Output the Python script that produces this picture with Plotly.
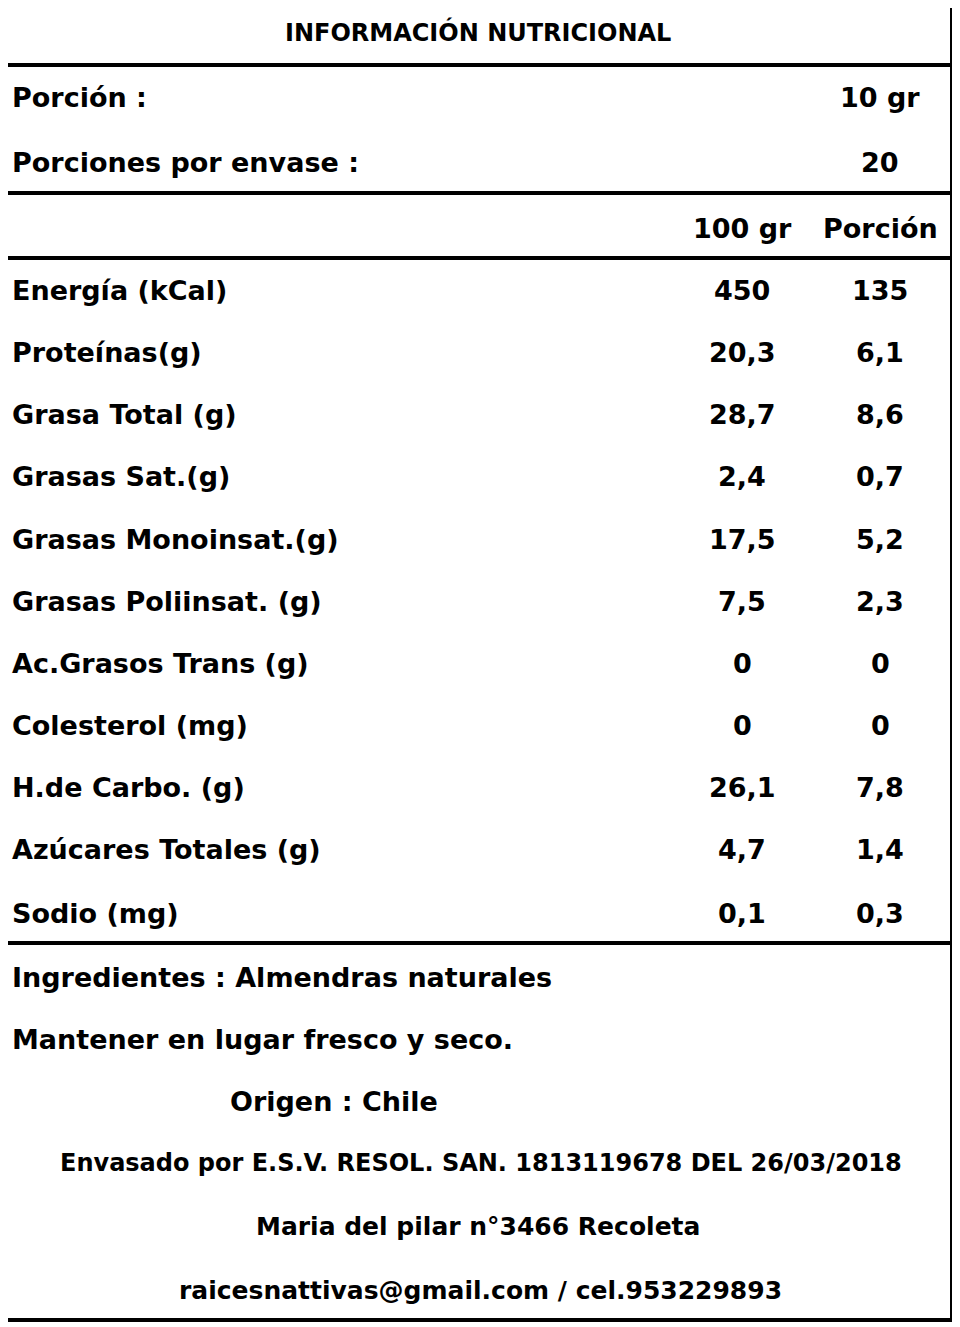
import plotly.graph_objects as go

title = "INFORMACIÓN NUTRICIONAL"
porcion = ("Porción :", "10 gr")
porciones = ("Porciones por envase :", "20")
col_heads = ["100 gr", "Porción"]
nutrients = ["Energía (kCal)", "Proteínas(g)", "Grasa Total (g)", "Grasas Sat.(g)",
             "Grasas Monoinsat.(g)", "Grasas Poliinsat. (g)", "Ac.Grasos Trans (g)",
             "Colesterol (mg)", "H.de Carbo. (g)", "Azúcares Totales (g)", "Sodio (mg)"]
per100 = ["450", "20,3", "28,7", "2,4", "17,5", "7,5", "0", "0", "26,1", "4,7", "0,1"]
perPortion = ["135", "6,1", "8,6", "0,7", "5,2", "2,3", "0", "0", "7,8", "1,4", "0,3"]
footer = ["Ingredientes : Almendras naturales", "Mantener en lugar fresco y seco.",
          "Origen : Chile", "Envasado por E.S.V. RESOL. SAN. 1813119678 DEL 26/03/2018",
          "Maria del pilar n°3466 Recoleta", "raicesnattivas@gmail.com / cel.953229893"]

FONT = "DejaVu Sans"
fig = go.Figure()
ann = []

def txt(x, y, s, size=27, anchor="left"):
    ann.append(dict(x=x, y=y, text=f"<b>{s}</b>", showarrow=False, xanchor=anchor,
                    yanchor="middle", font=dict(family=FONT, size=size, color="black")))

txt(478, 32, title, 24, "center")
txt(10, 97, porcion[0]); txt(880, 97, porcion[1], anchor="center")
txt(10, 162, porciones[0]); txt(880, 162, porciones[1], anchor="center")
txt(742, 228, col_heads[0], anchor="center"); txt(880, 228, col_heads[1], anchor="center")

row_y = [290, 352, 414, 476, 539, 601, 663, 725, 787, 849, 913]
for y, n, a, b in zip(row_y, nutrients, per100, perPortion):
    txt(10, y, n); txt(742, y, a, anchor="center"); txt(880, y, b, anchor="center")

foot_y = [977, 1039, 1101, 1163, 1226, 1290]
txt(10, foot_y[0], footer[0]); txt(10, foot_y[1], footer[1])
txt(228, foot_y[2], footer[2])
txt(481, foot_y[3], footer[3], 24, "center")
txt(478, foot_y[4], footer[4], 25, "center")
txt(480, foot_y[5], footer[5], 25, "center")

shapes = [dict(type="rect", x0=3, x1=952, y0=3, y1=1320, line=dict(color="black", width=4))]
for y in [65, 193, 258, 943]:
    shapes.append(dict(type="line", x0=3, x1=952, y0=y, y1=y, line=dict(color="black", width=4)))

# page body adds an 8px offset, so shift the axis ranges to compensate
fig.update_layout(
    width=960, height=1327, margin=dict(l=0, r=0, t=0, b=0),
    plot_bgcolor="white", paper_bgcolor="white", showlegend=False,
    xaxis=dict(range=[8, 968], visible=False, fixedrange=True),
    yaxis=dict(range=[1335, 8], visible=False, fixedrange=True),
    annotations=ann, shapes=shapes,
)
fig.write_html("out.html")
